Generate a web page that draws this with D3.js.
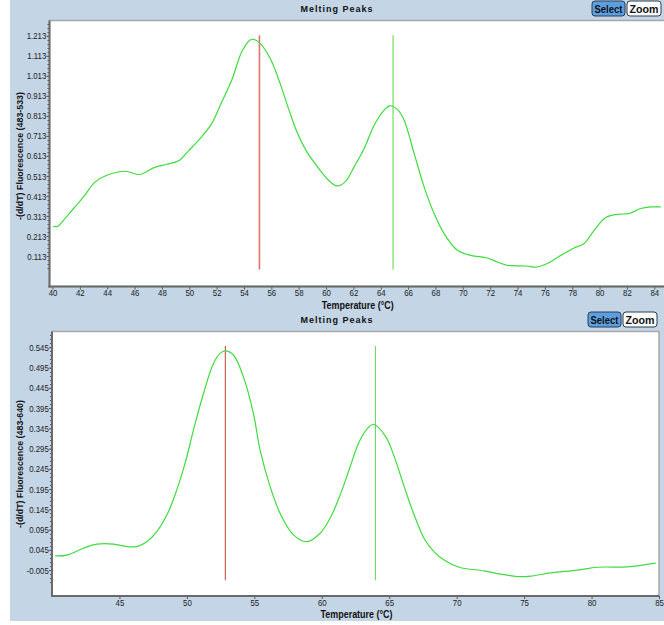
<!DOCTYPE html>
<html>
<head>
<meta charset="utf-8">
<script src="https://cdn.jsdelivr.net/npm/d3@7"></script>
<style>
  body { margin: 0; background: #fff; }
  .chart text { font-family: "Liberation Sans", Arial, sans-serif; }
</style>
</head>
<body>
<div class="chart"></div>
<script>
// top panel (483-533)
const topTemps = [40.05, 40.37, 40.80, 41.54, 42.27, 43.12, 43.97, 45.31, 46.41, 47.38, 48.36, 49.21, 49.94, 50.80,
  51.65, 52.38, 53.11, 53.84, 54.45, 54.69, 55.18, 55.91, 56.64, 57.25, 57.87, 58.60, 59.57, 60.18, 60.79, 61.40,
  62.05, 62.79, 63.52, 64.25, 64.66, 65.22, 65.71, 66.44, 67.17, 67.90, 68.63, 69.61, 70.58, 71.80, 72.53, 73.26,
  74.61, 75.45, 76.18, 77.16, 78.14, 78.87, 79.60, 80.45, 81.30, 82.16, 83.01, 83.74, 84.47];
const topValues = [0.261, 0.261, 0.291, 0.350, 0.408, 0.483, 0.516, 0.536, 0.520, 0.553, 0.571, 0.588, 0.638, 0.700,
  0.775, 0.883, 0.992, 1.133, 1.192, 1.195, 1.175, 1.100, 0.975, 0.850, 0.733, 0.633, 0.541, 0.491, 0.463, 0.483,
  0.558, 0.650, 0.766, 0.841, 0.863, 0.845, 0.791, 0.625, 0.458, 0.325, 0.225, 0.141, 0.116, 0.103, 0.083, 0.066,
  0.063, 0.058, 0.075, 0.116, 0.153, 0.175, 0.241, 0.305, 0.321, 0.325, 0.350, 0.358, 0.358];
const topPeaks = [55.13, 64.90];
const topPeakSpan = [0.045, 1.215];
const topXTicks = [40, 42, 44, 46, 48, 50, 52, 54, 56, 58, 60, 62, 64, 66, 68, 70, 72, 74, 76, 78, 80, 82, 84];
const topYTicks = [0.113, 0.213, 0.313, 0.413, 0.513, 0.613, 0.713, 0.813, 0.913, 1.013, 1.113, 1.213];

// bottom panel (483-640)
const botTemps = [40.23, 41.10, 42.33, 43.32, 44.56, 45.55, 46.29, 47.03, 47.77, 48.63, 49.25, 49.87, 50.49, 51.23,
  51.97, 52.46, 52.84, 53.45, 54.19, 54.93, 55.43, 56.17, 56.91, 57.90, 58.89, 59.88, 60.62, 61.36, 62.10, 62.75,
  63.39, 63.83, 64.75, 65.37, 66.11, 66.85, 67.59, 68.33, 69.07, 70.18, 72.04, 73.27, 74.51, 75.49, 76.98, 78.96,
  80.44, 82.66, 84.76];
const botValues = [0.030, 0.032, 0.049, 0.059, 0.059, 0.053, 0.053, 0.065, 0.090, 0.139, 0.193, 0.259, 0.341, 0.431,
  0.505, 0.530, 0.536, 0.526, 0.472, 0.382, 0.291, 0.201, 0.135, 0.082, 0.065, 0.086, 0.123, 0.180, 0.250, 0.310,
  0.345, 0.355, 0.324, 0.275, 0.201, 0.131, 0.073, 0.040, 0.020, 0.002, -0.007, -0.015, -0.021, -0.020, -0.012, -0.005,
  0.002, 0.003, 0.012];
const botPeaks = [52.85, 63.98];
const botPeakSpan = [-0.030, 0.548];
const botXTicks = [45, 50, 55, 60, 65, 70, 75, 80, 85];
const botYTicks = [-0.005, 0.045, 0.095, 0.145, 0.195, 0.245, 0.295, 0.345, 0.395, 0.445, 0.495, 0.545];

const W = 664, H = 625;
const narrow = "scale(0.8,1)";

const svg = d3.select(".chart")
  .append("svg")
  .attr("width", W)
  .attr("height", H);

// panel background
svg.append("rect")
  .attr("x", 10).attr("y", 0)
  .attr("width", W - 10).attr("height", 621)
  .attr("fill", "#c4d5e6");

function button(g, x, y, w, label, fill) {
  g.append("rect")
    .attr("x", x).attr("y", y)
    .attr("width", w).attr("height", 15)
    .attr("rx", 3)
    .attr("fill", fill)
    .attr("stroke", "#2b3c4e")
    .attr("stroke-width", 1);
  g.append("text")
    .attr("x", x + w / 2).attr("y", y + 11.5)
    .attr("text-anchor", "middle")
    .attr("font-size", 11.5)
    .attr("font-weight", "bold")
    .attr("textLength", w - 5)
    .attr("lengthAdjust", "spacingAndGlyphs")
    .attr("fill", "#111")
    .text(label);
}

function panel(o) {
  const g = svg.append("g");

  const x = d3.scaleLinear().domain(o.xDomain).range([o.left, o.right]);
  const y = d3.scaleLinear().domain(o.yDomain).range([o.bottom, o.top]);

  // title + buttons
  g.append("text")
    .attr("x", 337).attr("y", o.titleY)
    .attr("text-anchor", "middle")
    .attr("font-size", 9)
    .attr("font-weight", "bold")
    .attr("letter-spacing", 1)
    .attr("fill", "#111")
    .text("Melting Peaks");
  button(g, o.btnX, o.btnY, 33, "Select", "#5c9fe0");
  button(g, o.btnX + 35, o.btnY, 34, "Zoom", "#ffffff");

  // plot area
  g.append("rect")
    .attr("x", o.left).attr("y", o.top)
    .attr("width", o.boxRight - o.left).attr("height", o.bottom - o.top)
    .attr("fill", "white")
    .attr("stroke", "#a8a8a8")
    .attr("stroke-width", 1.5);

  // minor y ticks
  const yMinor = d3.range(o.yTicks[0] - o.yMinorStep * 3, o.yDomain[1], o.yMinorStep)
    .filter(v => v > o.yDomain[0]);
  g.append("g")
    .selectAll("line")
    .data(yMinor)
    .join("line")
    .attr("x1", o.left - 2).attr("x2", o.left)
    .attr("y1", d => Math.round(y(d)) + 0.5).attr("y2", d => Math.round(y(d)) + 0.5)
    .attr("stroke", "#555");

  const yAxis = d3.axisLeft(y)
    .tickValues(o.yTicks)
    .tickSize(3)
    .tickPadding(1)
    .tickFormat(d => d.toFixed(3));
  const xAxis = d3.axisBottom(x)
    .tickValues(o.xTicks)
    .tickSize(3)
    .tickPadding(0)
    .tickFormat(d3.format("d"));

  const ya = g.append("g")
    .attr("transform", `translate(${o.left},0)`)
    .call(yAxis);
  const xa = g.append("g")
    .attr("transform", `translate(0,${o.bottom})`)
    .call(xAxis);

  [ya, xa].forEach(a => {
    a.select(".domain").remove();
    a.selectAll(".tick line").attr("stroke", "#555");
    a.selectAll(".tick text")
      .attr("font-size", 9.8)
      .attr("fill", "#222")
      .attr("transform", narrow);
  });

  // dark axis lines
  g.append("line")
    .attr("x1", o.left).attr("x2", o.left)
    .attr("y1", o.top).attr("y2", o.bottom + 1)
    .attr("stroke", "#6a6a6a").attr("stroke-width", 2);
  g.append("line")
    .attr("x1", o.left - 1).attr("x2", o.boxRight)
    .attr("y1", o.bottom).attr("y2", o.bottom)
    .attr("stroke", "#6a6a6a").attr("stroke-width", 2);

  // axis titles
  g.append("text")
    .attr("x", (o.left + o.right) / 2 + 1).attr("y", o.bottom + 22)
    .attr("text-anchor", "middle")
    .attr("font-size", 10.2)
    .attr("font-weight", "bold")
    .attr("textLength", 72)
    .attr("lengthAdjust", "spacingAndGlyphs")
    .attr("fill", "#111")
    .text("Temperature (°C)");
  g.append("text")
    .attr("transform", `translate(23,${o.yTitleY}) rotate(-90)`)
    .attr("text-anchor", "middle")
    .attr("font-size", 9.5)
    .attr("font-weight", "bold")
    .attr("textLength", 128)
    .attr("lengthAdjust", "spacingAndGlyphs")
    .attr("fill", "#111")
    .text(o.yTitle);

  // peak markers
  g.selectAll(".peak")
    .data(o.peaks)
    .join("line")
    .attr("x1", d => x(d)).attr("x2", d => x(d))
    .attr("y1", y(o.peakSpan[0])).attr("y2", y(o.peakSpan[1]))
    .attr("stroke", (d, i) => o.peakColors[i])
    .attr("stroke-width", (d, i) => o.peakWidths[i]);

  // melting curve
  const data = o.temps.map((t, i) => ({ t: t, v: o.values[i] }));
  const line = d3.line()
    .x(d => x(d.t))
    .y(d => y(d.v))
    .curve(d3.curveCatmullRom.alpha(0.5));
  g.append("path")
    .datum(data)
    .attr("fill", "none")
    .attr("stroke", "#3edc3e")
    .attr("stroke-width", 1.2)
    .attr("d", line);
}

panel({
  left: 49.5, right: 664, boxRight: 668, top: 20.5, bottom: 286.5,
  xDomain: [39.78, 84.71], yDomain: [-0.0395, 1.289],
  xTicks: topXTicks, yTicks: topYTicks, yMinorStep: 0.02,
  temps: topTemps, values: topValues,
  peaks: topPeaks, peakSpan: topPeakSpan,
  peakColors: ["#d9766d", "#a3e896"], peakWidths: [1.6, 1.8],
  titleY: 12, btnX: 592, btnY: 1,
  yTitle: "-(d/dT) Fluorescence (483-533)", yTitleY: 156
});

panel({
  left: 52, right: 659, boxRight: 659, top: 331.5, bottom: 596,
  xDomain: [40, 85], yDomain: [-0.069, 0.584],
  xTicks: botXTicks, yTicks: botYTicks, yMinorStep: 0.01,
  temps: botTemps, values: botValues,
  peaks: botPeaks, peakSpan: botPeakSpan,
  peakColors: ["#c4533f", "#6edc5e"], peakWidths: [1.1, 1.1],
  titleY: 323, btnX: 588, btnY: 312,
  yTitle: "-(d/dT) Fluorescence (483-640)", yTitleY: 464
});
</script>
</body>
</html>
